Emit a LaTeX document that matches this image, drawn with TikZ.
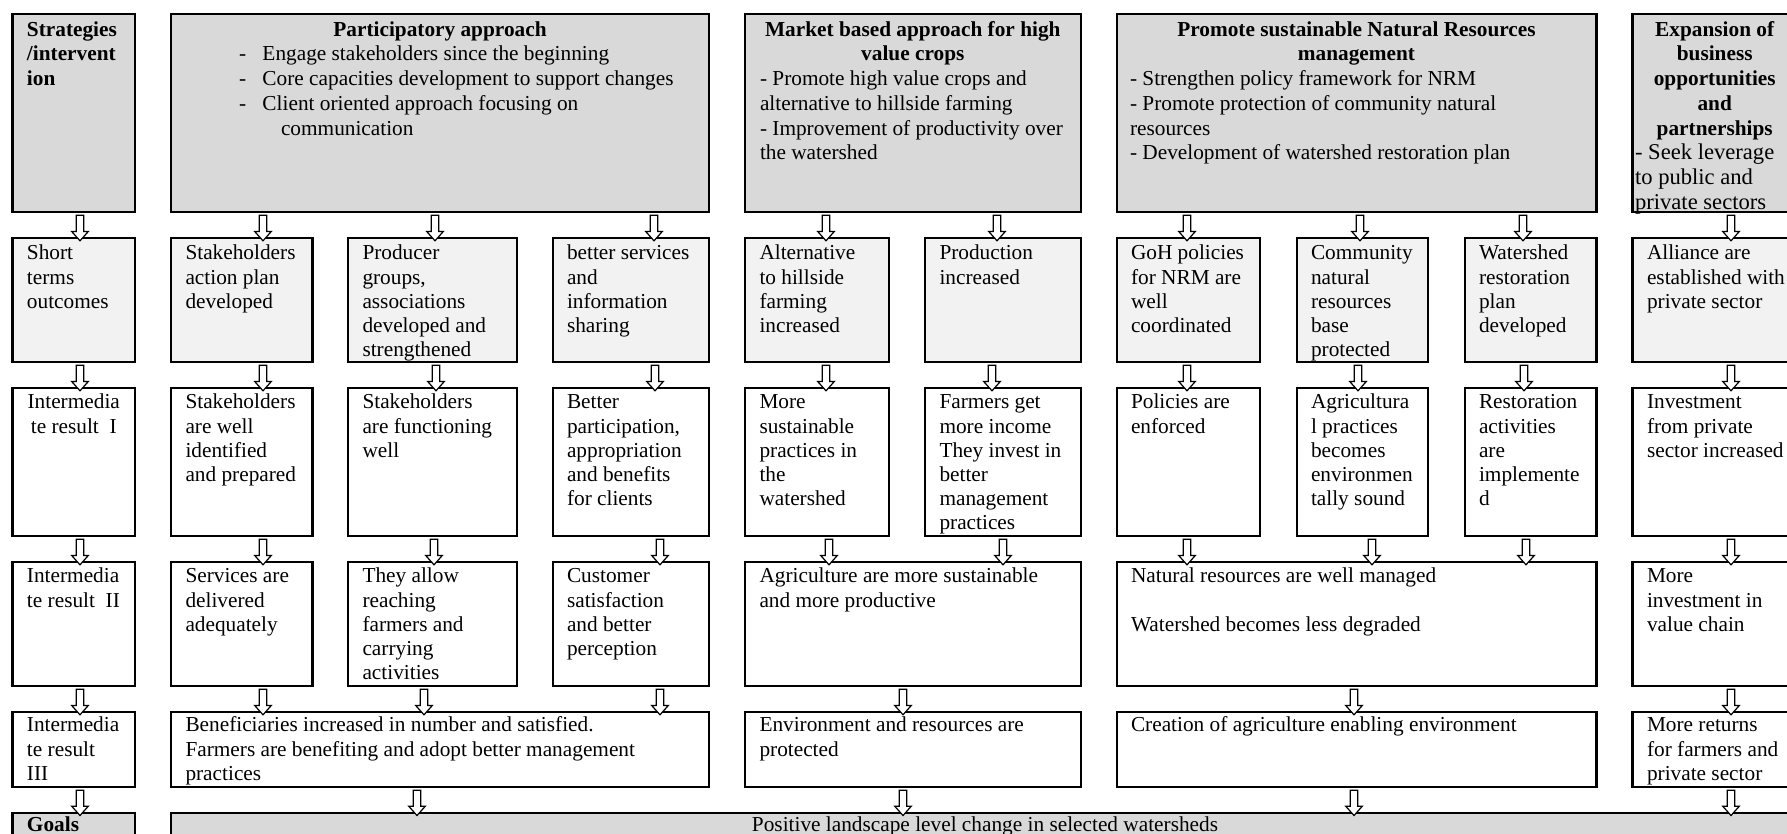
\documentclass[tikz,border=0pt]{standalone}
\usepackage{fontspec}
\setmainfont{Liberation Serif}
\usetikzlibrary{calc}
\definecolor{hdrgray}{HTML}{D9D9D9}
\definecolor{outgray}{HTML}{F2F2F2}
\tikzset{
  bx/.style={draw=black, line width=2.2pt, inner sep=0pt, outer sep=0pt},
  txt/.style={inner sep=0pt, outer sep=0pt, anchor=north west, align=left,
    font=\fontsize{21.3}{24.2}\selectfont},
  ctxt/.style={txt, anchor=north, align=center},
  bf/.style={font=\fontsize{21.3}{24.2}\selectfont\bfseries},
  hd/.style={font=\fontsize{21.3}{24.7}\selectfont},
  hdbf/.style={font=\fontsize{21.3}{24.7}\selectfont\bfseries},
  hdbig/.style={font=\fontsize{22.6}{24.7}\selectfont},
  darrow/.style={draw=black, line width=1.2pt, fill=white, line join=miter},
}
\newcommand\BX[6]{\node[bx, fill=#6, minimum width={#4pt-#2pt}, minimum height={#5pt-#3pt}] (#1) at ({(#2+#4)/2},{(#3+#5)/2}) {};}
\newcommand\TX[5][]{\node[txt,#1] (#2) at (#3,#4) {\strut#5};}
\newcommand\TC[5][]{\node[ctxt,#1] (#2) at (#3,#4) {\strut#5};}
\newcommand\DA[3]{%
  \coordinate (da-a) at (#1,0 |- #2.south);
  \coordinate (da-b) at (#1,0 |- #3.north);
  \draw[darrow] ($(da-a)+(-3.8,3.5)$) -- ($(da-b)+(-3.8,-6.5)$) -- ($(da-b)+(-8.3,-6.5)$)
    -- ($(da-b)+(0,2.8)$) -- ($(da-b)+(8.3,-6.5)$) -- ($(da-b)+(3.8,-6.5)$)
    -- ($(da-a)+(3.8,3.5)$) -- cycle;}
\begin{document}
\begin{tikzpicture}[x=1pt,y=-1pt]
\useasboundingbox (0,0) rectangle (1787,834);
\fill[white] (0,0) rectangle (1787,834);
\clip (0,0) rectangle (1787,834);
% ---------- row 1: strategies
\BX{strat}{12.5}{14}{135}{211.7}{hdrgray}
\BX{part}{171}{14}{709}{211.7}{hdrgray}
\BX{mkt}{745}{14}{1080.6}{211.7}{hdrgray}
\BX{nrm}{1116.6}{14}{1596.4}{211.7}{hdrgray}
\BX{exp}{1632.4}{14}{1797}{211.7}{hdrgray}
% ---------- row 2: short term outcomes
\BX{o0}{12.5}{238}{135}{361.7}{outgray}
\BX{o1}{171}{238}{312.5}{361.7}{outgray}
\BX{o2}{348}{238}{517}{361.7}{outgray}
\BX{o3}{552.7}{238}{709}{361.7}{outgray}
\BX{o4}{745}{238}{888.6}{361.7}{outgray}
\BX{o5}{925.3}{238}{1080.6}{361.7}{outgray}
\BX{o6}{1116.6}{238}{1260}{361.7}{outgray}
\BX{o7}{1296.9}{238}{1427.9}{361.7}{outgray}
\BX{o8}{1464.6}{238}{1596.4}{361.7}{outgray}
\BX{o9}{1632.4}{238}{1797}{361.7}{outgray}
% ---------- row 3: intermediate result I
\BX{i0}{12.5}{388}{135}{535.7}{white}
\BX{i1}{171}{388}{312.5}{535.7}{white}
\BX{i2}{348}{388}{517}{535.7}{white}
\BX{i3}{552.7}{388}{709}{535.7}{white}
\BX{i4}{745}{388}{888.6}{535.7}{white}
\BX{i5}{925.3}{388}{1080.6}{535.7}{white}
\BX{i6}{1116.6}{388}{1260}{535.7}{white}
\BX{i7}{1296.9}{388}{1427.9}{535.7}{white}
\BX{i8}{1464.6}{388}{1596.4}{535.7}{white}
\BX{i9}{1632.4}{388}{1797}{535.7}{white}
% ---------- row 4: intermediate result II
\BX{j0}{12.5}{562}{135}{685.7}{white}
\BX{j1}{171}{562}{312.5}{685.7}{white}
\BX{j2}{348}{562}{517}{685.7}{white}
\BX{j3}{552.7}{562}{709}{685.7}{white}
\BX{jm}{745}{562}{1080.6}{685.7}{white}
\BX{jn}{1116.6}{562}{1596.4}{685.7}{white}
\BX{j9}{1632.4}{562}{1797}{685.7}{white}
% ---------- row 5: intermediate result III
\BX{k0}{12.5}{712}{135}{786.7}{white}
\BX{kp}{171}{712}{709}{786.7}{white}
\BX{km}{745}{712}{1080.6}{786.7}{white}
\BX{kn}{1116.6}{712}{1596.4}{786.7}{white}
\BX{k9}{1632.4}{712}{1797}{786.7}{white}
% ---------- row 6: goals
\BX{g0}{12.5}{812.7}{135}{870}{hdrgray}
\BX{gp}{171}{812.7}{1797}{870}{hdrgray}
% ---------- arrows
\DA{80}{strat}{o0} \DA{263}{part}{o1} \DA{435}{part}{o2} \DA{654}{part}{o3}
\DA{826}{mkt}{o4} \DA{997}{mkt}{o5} \DA{1187}{nrm}{o6} \DA{1360}{nrm}{o7}
\DA{1523}{nrm}{o8} \DA{1731}{exp}{o9}
\DA{80}{o0}{i0} \DA{263}{o1}{i1} \DA{436}{o2}{i2} \DA{655}{o3}{i3}
\DA{826}{o4}{i4} \DA{992}{o5}{i5} \DA{1187}{o6}{i6} \DA{1358}{o7}{i7}
\DA{1524}{o8}{i8} \DA{1731}{o9}{i9}
\DA{80}{i0}{j0} \DA{263}{i1}{j1} \DA{434}{i2}{j2} \DA{660}{i3}{j3}
\DA{829}{i4}{jm} \DA{1003}{i5}{jm} \DA{1187}{i6}{jn} \DA{1372}{i7}{jn}
\DA{1526}{i8}{jn} \DA{1731}{i9}{j9}
\DA{80}{j0}{k0} \DA{263}{j1}{kp} \DA{424}{j2}{kp} \DA{660}{j3}{kp}
\DA{903}{jm}{km} \DA{1354}{jn}{kn} \DA{1731}{j9}{k9}
\DA{80}{k0}{g0} \DA{417}{kp}{gp} \DA{903}{km}{gp} \DA{1354}{kn}{gp} \DA{1731}{k9}{gp}
% ---------- texts row 1
\TX[hdbf]{t-strat}{27}{19}{Strategies\\/intervent\\ion}
\TC[hdbf]{t-part}{440}{19}{Participatory approach}
\TX[hd]{t-partb}{239}{43.7}{\makebox[23.5pt][l]{-}Engage stakeholders since the beginning\\\makebox[23.5pt][l]{-}Core capacities development to support changes\\\makebox[23.5pt][l]{-}Client oriented approach focusing on\\\hspace*{42pt}communication}
\TC[hdbf]{t-mkt}{912.8}{19}{Market based approach for high\\value crops}
\TX[hd]{t-mktb}{760}{68.4}{- Promote high value crops and\\alternative to hillside farming\\- Improvement of productivity over\\the watershed}
\TC[hdbf]{t-nrm}{1356.5}{19}{Promote sustainable Natural Resources\\management}
\TX[hd]{t-nrmb}{1130}{68.4}{- Strengthen policy framework for NRM\\- Promote protection of community natural\\resources\\- Development of watershed restoration plan}
\TC[hdbf]{t-exp}{1714.7}{19}{Expansion of\\business\\opportunities\\and\\partnerships}
\TX[hdbig]{t-expb}{1635}{142.5}{- Seek leverage\\to public and\\private sectors}
% ---------- texts row 2
\TX{t-o0}{27}{243}{Short\\terms\\outcomes}
\TX{t-o1}{185.5}{243}{Stakeholders\\action plan\\developed}
\TX{t-o2}{362.5}{243}{Producer\\groups,\\associations\\developed and\\strengthened}
\TX{t-o3}{567}{243}{better services\\and\\information\\sharing}
\TX{t-o4}{759.5}{243}{Alternative\\to hillside\\farming\\increased}
\TX{t-o5}{939.5}{243}{Production\\increased}
\TX{t-o6}{1131}{243}{GoH policies\\for NRM are\\well\\coordinated}
\TX{t-o7}{1311}{243}{Community\\natural\\resources\\base\\protected}
\TX{t-o8}{1479}{243}{Watershed\\restoration\\plan\\developed}
\TX{t-o9}{1647}{243}{Alliance are\\established with\\private sector}
% ---------- texts row 3
\TC{t-i0}{73.75}{392}{Intermedia\\te result\ \ I}
\TX{t-i1}{185.5}{392}{Stakeholders\\are well\\identified\\and prepared}
\TX{t-i2}{362.5}{392}{Stakeholders\\are functioning\\well}
\TX{t-i3}{567}{392}{Better\\participation,\\appropriation\\and benefits\\for clients}
\TX{t-i4}{759.5}{392}{More\\sustainable\\practices in\\the\\watershed}
\TX{t-i5}{939.5}{392}{Farmers get\\more income\\They invest in\\better\\management\\practices}
\TX{t-i6}{1131}{392}{Policies are\\enforced}
\TX{t-i7}{1311}{392}{Agricultura\\l practices\\becomes\\environmen\\tally sound}
\TX{t-i8}{1479}{392}{Restoration\\activities\\are\\implemente\\d}
\TX{t-i9}{1647}{392}{Investment\\from private\\sector increased}
% ---------- texts row 4
\TX{t-j0}{27}{566}{Intermedia\\te result\ \ II}
\TX{t-j1}{185.5}{566}{Services are\\delivered\\adequately}
\TX{t-j2}{362.5}{566}{They allow\\reaching\\farmers and\\carrying\\activities}
\TX{t-j3}{567}{566}{Customer\\satisfaction\\and better\\perception}
\TX{t-jm}{759.5}{566}{Agriculture are more sustainable\\and more productive}
\TX{t-jn}{1131}{566}{Natural resources are well managed\\\strut\\Watershed becomes less degraded}
\TX{t-j9}{1647}{566}{More\\investment in\\value chain}
% ---------- texts row 5
\TX{t-k0}{27}{715}{Intermedia\\te result\\III}
\TX{t-kp}{185.5}{715}{Beneficiaries increased in number and satisfied.\\Farmers are benefiting and adopt better management\\practices}
\TX{t-km}{759.5}{715}{Environment and resources are\\protected}
\TX{t-kn}{1131}{715}{Creation of agriculture enabling environment}
\TX{t-k9}{1647}{715}{More returns\\for farmers and\\private sector}
% ---------- texts row 6
\TX[bf]{t-g0}{27}{814.7}{Goals}
\TC{t-gp}{985}{814.7}{Positive landscape level change in selected watersheds}
\end{tikzpicture}
\end{document}
